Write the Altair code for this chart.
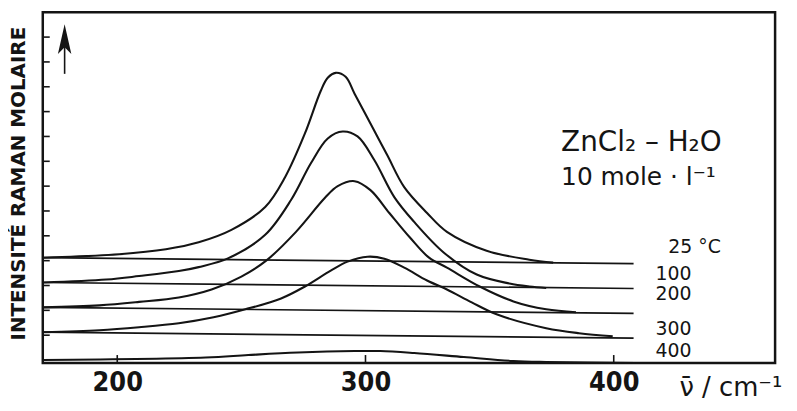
import altair as alt
import pandas as pd

# ---- data (wavenumber in cm-1, intensity in tick units) ----
temps = ["25", "100", "200", "300", "400"]

w_25 = [170.0, 200.8, 219.6, 232.8, 246.0, 259.6, 267.6, 275.6, 282.0, 284.8, 288.0, 292.0,
        295.6, 302.0, 308.8, 315.6, 324.8, 332.8, 348.8, 366.0, 375.6]
i_25 = [4.12, 4.26, 4.46, 4.74, 5.24, 6.16, 7.36, 9.12, 10.84, 11.36, 11.56, 11.40,
        10.72, 9.52, 8.24, 6.96, 5.92, 5.16, 4.40, 4.04, 3.92]

w_100 = [170.0, 195.6, 208.8, 224.8, 232.8, 244.8, 259.6, 270.0, 278.0, 284.8, 290.8, 296.8,
         303.6, 311.6, 319.6, 331.6, 344.8, 358.0, 366.0, 372.8]
i_100 = [3.12, 3.24, 3.38, 3.58, 3.74, 4.10, 5.04, 6.44, 7.92, 8.92, 9.20, 9.00,
         8.04, 6.56, 5.56, 4.32, 3.44, 3.08, 2.96, 2.90]

w_200 = [170.0, 192.8, 208.8, 224.8, 238.0, 250.0, 260.0, 272.0, 283.6, 288.8, 295.6, 302.0,
         309.6, 318.0, 325.6, 332.8, 346.0, 359.6, 372.8, 384.8]
i_200 = [2.12, 2.20, 2.34, 2.52, 2.84, 3.36, 4.00, 5.16, 6.52, 7.00, 7.20, 6.84,
         5.92, 4.92, 4.12, 3.72, 2.96, 2.36, 2.04, 1.92]

w_300 = [170.0, 192.8, 208.8, 224.8, 238.8, 251.6, 266.0, 275.6, 286.0, 292.8, 300.8, 307.6,
         315.6, 324.8, 332.8, 342.8, 352.8, 372.8, 386.0, 399.6]
i_300 = [1.12, 1.20, 1.32, 1.48, 1.72, 2.04, 2.48, 2.96, 3.60, 3.96, 4.16, 4.08,
         3.72, 3.20, 2.84, 2.32, 1.84, 1.28, 1.08, 0.96]

w_400 = [170.0, 235.6, 252.8, 272.8, 295.6, 306.0, 319.6, 339.6, 359.6, 372.8, 408.8]
i_400 = [0.0, 0.10, 0.20, 0.30, 0.36, 0.36, 0.28, 0.12, -0.04, -0.08, -0.12]

# straight baselines of each spectrum
base_temps = ["25", "100", "200", "300"]
base_w_start = [170.0, 170.0, 170.0, 170.0]
base_w_end = [408.0, 408.0, 408.0, 408.0]
base_i_start = [4.12, 3.12, 2.12, 1.12]
base_i_end = [3.88, 2.88, 1.88, 0.88]

# temperature labels
label_text = ["25 °C", "100", "200", "300", "400"]
label_w = [422.0, 416.8, 416.8, 416.8, 416.8]
label_i = [4.56, 3.46, 2.64, 1.24, 0.38]

# annotation
note_text = ["ZnCl₂ – H₂O", "10 mole · l⁻¹"]
note_w = [378.8, 378.8]
note_i = [8.72, 7.38]
note_size = [28, 25]

# arrow
arrow_w = [178.8]
arrow_i0 = [11.52]
arrow_i1 = [12.85]
arrow_head_i = [12.92]

x_ticks = [200, 300, 400]
y_ticks = list(range(1, 14))

# ---- build tables ----
series = {"25": (w_25, i_25), "100": (w_100, i_100), "200": (w_200, i_200),
          "300": (w_300, i_300), "400": (w_400, i_400)}
curves = pd.concat([pd.DataFrame({"w": series[t][0], "I": series[t][1], "T": t}) for t in temps],
                   ignore_index=True)
bases = pd.concat([pd.DataFrame({"w": [base_w_start[k], base_w_end[k]],
                                 "I": [base_i_start[k], base_i_end[k]],
                                 "T": base_temps[k]}) for k in range(len(base_temps))],
                  ignore_index=True)
labels = pd.DataFrame({"w": label_w, "I": label_i, "txt": label_text})
notes = pd.DataFrame({"w": note_w, "I": note_i, "txt": note_text, "s": note_size})
arrow = pd.DataFrame({"w": arrow_w, "I": arrow_i0, "I2": arrow_i1, "H": arrow_head_i})
xt = pd.DataFrame({"w": x_ticks})
yt = pd.DataFrame({"I": y_ticks})

INK = "#141414"
x_scale = alt.Scale(domain=[170, 465], nice=False, zero=False)
y_scale = alt.Scale(domain=[-0.12, 14], nice=False, zero=False)

x_axis = alt.Axis(values=x_ticks, ticks=False, tickSize=0, domain=False, grid=False, format="d",
                  labelFont="Liberation Sans Narrow, DejaVu Sans Condensed, sans-serif",
                  labelFontSize=27, labelFontWeight="bold", labelPadding=7, labelColor=INK,
                  title="ν̄ / cm⁻¹", titleFont="DejaVu Sans", titleFontSize=26,
                  titleFontWeight="normal", titleColor=INK, titleX=692, titleY=25,
                  titleAlign="center", titleBaseline="middle")
y_axis = alt.Axis(labels=False, ticks=False, domain=False, grid=False,
                  title="INTENSITÉ RAMAN MOLAIRE", titleFont="DejaVu Sans", titleFontSize=20,
                  titleFontWeight="bold", titleColor=INK, titleX=-24, titleY=172,
                  titleAlign="center", titleBaseline="middle")

X = alt.X("w:Q", scale=x_scale, axis=x_axis)
Y = alt.Y("I:Q", scale=y_scale, axis=y_axis)

curve_layer = alt.Chart(curves).mark_line(interpolate="catmull-rom", color=INK, strokeWidth=2.1).encode(
    x=X, y=Y, detail="T:N")
base_layer = alt.Chart(bases).mark_line(color=INK, strokeWidth=1.7).encode(x=X, y=Y, detail="T:N")

label_layer = alt.Chart(labels).mark_text(align="left", baseline="middle", font="DejaVu Sans",
                                          fontSize=19, color=INK).encode(x=X, y=Y, text="txt:N")
note_layer = alt.Chart(notes).mark_text(align="left", baseline="middle", font="DejaVu Sans",
                                        color=INK).encode(
    x=X, y=Y, text="txt:N", size=alt.Size("s:Q", scale=None, legend=None))

shaft = alt.Chart(arrow).mark_rule(color=INK, strokeWidth=1.6).encode(x=X, y=Y, y2="I2:Q")
head = alt.Chart(arrow).mark_point(shape="M0,-1L0.45,1L0,0.55L-0.45,1Z", filled=True, size=900,
                                   color=INK, opacity=1).encode(
    x=X, y=alt.Y("H:Q", scale=y_scale, axis=y_axis))

ytick_layer = alt.Chart(yt).mark_rule(color=INK, strokeWidth=1.6).encode(
    y=Y, x=alt.value(0), x2=alt.value(7))
xtick_layer = alt.Chart(xt).mark_rule(color=INK, strokeWidth=1.6).encode(
    x=X, y=alt.value(353), y2=alt.value(345))

chart = alt.layer(curve_layer, base_layer, label_layer, note_layer, shaft, head,
                  ytick_layer, xtick_layer).properties(
    width=737, height=353,
    autosize=alt.AutoSizeParams(type="none"),
    padding={"left": 35, "top": 3, "right": 14, "bottom": 42},
    background="white",
).configure_view(stroke=INK, strokeWidth=2.5)

chart.save("out.html", embed_options={"renderer": "svg", "actions": False})
